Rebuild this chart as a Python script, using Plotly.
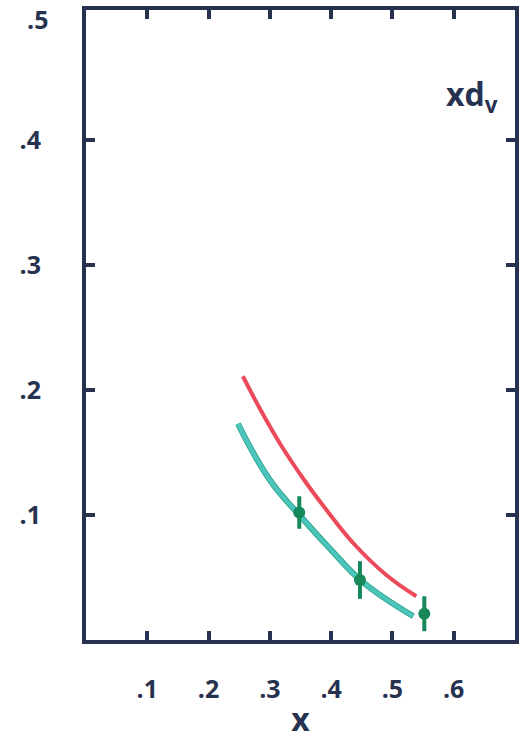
import plotly.graph_objects as go

# Red curve
red_x = [0.256, 0.285, 0.318, 0.356, 0.394, 0.437, 0.490, 0.539]
red_y = [0.211, 0.184, 0.156, 0.128, 0.103, 0.077, 0.052, 0.035]

# Teal curve
teal_x = [0.248, 0.300, 0.350, 0.400, 0.450, 0.534]
teal_y = [0.173, 0.128, 0.099, 0.072, 0.047, 0.019]

# Data points with errors
pt_x = [0.348, 0.447, 0.552]
pt_y = [0.102, 0.048, 0.021]
pt_err = [0.013, 0.015, 0.014]

x_tickvals = [0.1, 0.2, 0.3, 0.4, 0.5, 0.6]
x_ticktext = [".1", ".2", ".3", ".4", ".5", ".6"]
y_tickvals = [0.1, 0.2, 0.3, 0.4, 0.5]
y_ticktext = [".1", ".2", ".3", ".4", ".5"]

ink = "#263250"
fam = "Open Sans, DejaVu Sans, sans-serif"
font = dict(family=fam, size=25, color=ink, weight="bold")

fig = go.Figure()
fig.add_trace(go.Scatter(x=red_x, y=red_y, mode="lines",
                         line=dict(color="#ea4a5a", width=4, shape="spline", smoothing=1.2),
                         hoverinfo="skip", showlegend=False))
fig.add_trace(go.Scatter(x=teal_x, y=teal_y, mode="lines",
                         line=dict(color="#2fa890", width=6, shape="spline", smoothing=1.2),
                         hoverinfo="skip", showlegend=False))
fig.add_trace(go.Scatter(x=teal_x, y=teal_y, mode="lines",
                         line=dict(color="#4cc6bd", width=4, shape="spline", smoothing=1.2),
                         hoverinfo="skip", showlegend=False))
fig.add_trace(go.Scatter(x=pt_x, y=pt_y, mode="markers",
                         marker=dict(color="#16885a", size=12),
                         error_y=dict(type="data", array=pt_err, color="#16885a",
                                      thickness=4, width=0),
                         showlegend=False))

fig.add_annotation(x=0.63, y=0.435, xref="x", yref="y", showarrow=False,
                   text="<b>xd<sub>v</sub></b>",
                   font=dict(family=fam, size=32, color=ink))

# top y tick label (drawn as annotation so it is not hidden at the range edge)
fig.add_annotation(x=-36 / 433, y=y_tickvals[-1], xref="paper", yref="y",
                   xanchor="right", yanchor="middle", yshift=-4, showarrow=False,
                   text=y_ticktext[-1], font=font)

fig.update_xaxes(range=[0, 0.7], tickvals=x_tickvals, ticktext=x_ticktext,
                 showgrid=False, zeroline=False, showline=True, linewidth=4,
                 linecolor=ink, mirror="ticks", ticks="inside", ticklen=9,
                 tickwidth=4, tickcolor=ink, tickfont=font, ticklabelstandoff=24,
                 title=dict(text="<b>x</b>", font=dict(family=fam, size=32, color=ink),
                            standoff=6))
fig.update_yaxes(range=[0, 0.504], tickvals=y_tickvals[:-1], ticktext=y_ticktext[:-1],
                 showgrid=False, zeroline=False, showline=True, linewidth=4,
                 linecolor=ink, mirror="ticks", ticks="inside", ticklen=9,
                 tickwidth=4, tickcolor=ink, tickfont=font, ticklabelstandoff=36)

fig.update_layout(width=525, height=744, paper_bgcolor="white", plot_bgcolor="white",
                  margin=dict(l=86, r=6, t=10, b=104))

fig.write_html("out.html")
